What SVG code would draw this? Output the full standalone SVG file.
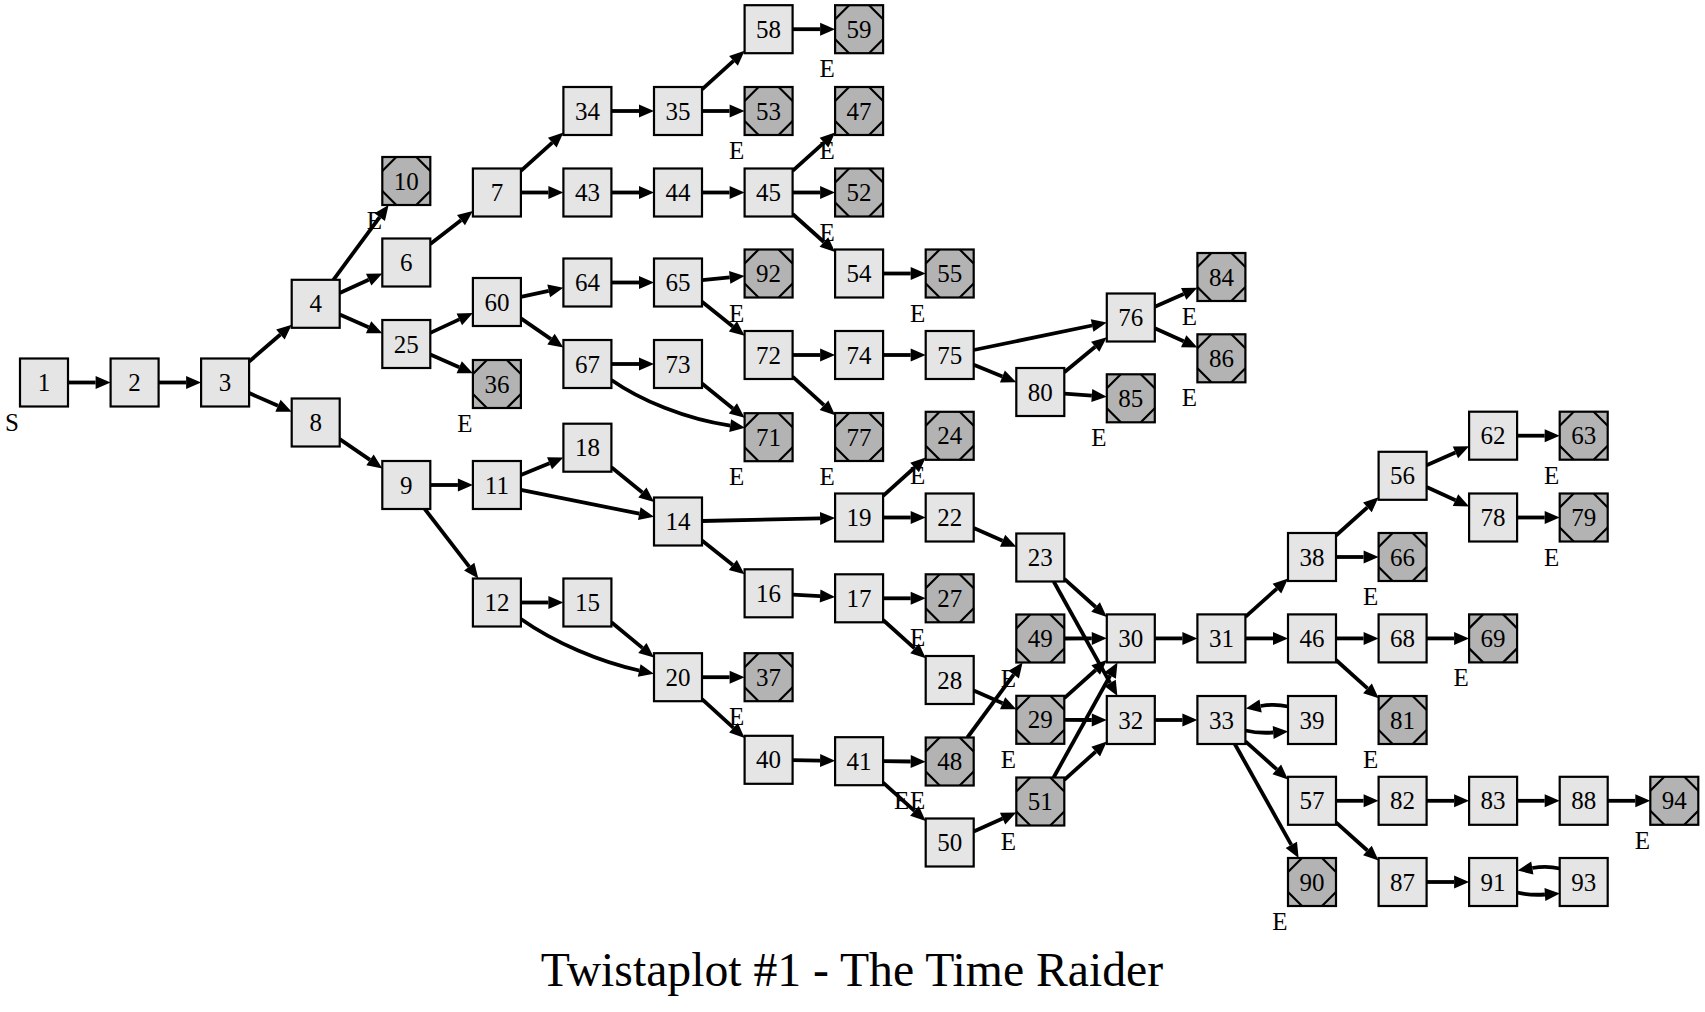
<svg xmlns="http://www.w3.org/2000/svg" xmlns:xlink="http://www.w3.org/1999/xlink" width="1705" height="1012" viewBox="0 0 1705 1012">
<style>
text{font-family:"Liberation Serif","Times New Roman",serif;fill:#000;text-anchor:middle}
.nt{font-size:25px}
.lbl{font-size:25px}
.title{font-size:47.7px}
.box{fill:#e5e5e5;stroke:#000;stroke-width:2.2}
.ebox{fill:#b3b3b3;stroke:#000;stroke-width:2.2}
.corner{fill:none;stroke:#000;stroke-width:2.2}
#edges path{fill:none;stroke:#000;stroke-width:3.8;marker-end:url(#ah)}
</style>
<defs>
<marker id="ah" markerUnits="userSpaceOnUse" markerWidth="16" markerHeight="14" refX="0" refY="7" orient="auto" viewBox="0 0 15 14"><path d="M0,0.5 L15,7 L0,13.5 z" fill="#000"/></marker>
<g id="nb"><rect class="box" x="-24" y="-24" width="48" height="48"/></g>
<g id="eb"><rect class="ebox" x="-24" y="-24" width="48" height="48"/><path class="corner" d="M-24,-10 L-10,-24 M10,-24 L24,-10 M24,10 L10,24 M-10,24 L-24,10"/></g>
</defs>
<rect width="1705" height="1012" fill="#fff"/>
<g id="edges">
<path d="M68,382.5 L95.6,382.5"/>
<path d="M158.6,382.5 L186.1,382.5"/>
<path d="M249.1,361.6 L280.4,334.5"/>
<path d="M249.1,393.1 L278,405.8"/>
<path d="M333.4,279.8 L379.7,217.1"/>
<path d="M339.7,292.9 L368.7,279.7"/>
<path d="M339.7,314.5 L368.6,327.3"/>
<path d="M430.3,244 L461,220.2"/>
<path d="M520.9,170.9 L552.3,142.6"/>
<path d="M520.9,192.5 L548.4,192.5"/>
<path d="M611.4,111 L639,111"/>
<path d="M702,89.3 L733.5,60.9"/>
<path d="M702,111 L729.6,111"/>
<path d="M792.6,29.2 L820.1,29.2"/>
<path d="M611.4,192.5 L639,192.5"/>
<path d="M702,192.5 L729.6,192.5"/>
<path d="M792.6,170.9 L824,142.6"/>
<path d="M792.6,192.5 L820.1,192.5"/>
<path d="M792.6,214 L823.9,242"/>
<path d="M883.1,273.5 L910.7,273.5"/>
<path d="M430.3,332.9 L459.3,319.4"/>
<path d="M430.3,354.6 L459.2,367.3"/>
<path d="M520.9,296.8 L548.7,290.8"/>
<path d="M520.9,318.4 L551,339.1"/>
<path d="M611.4,282.5 L639,282.5"/>
<path d="M702,280.1 L729.7,277.4"/>
<path d="M702,301.7 L732.9,326.4"/>
<path d="M792.6,355 L820.1,355"/>
<path d="M792.6,376.7 L824,405.2"/>
<path d="M883.1,355 L910.7,355"/>
<path d="M973.7,350 L1092.1,325.5"/>
<path d="M973.7,364.8 L1002.4,376.5"/>
<path d="M1064.3,372.3 L1095.2,346.8"/>
<path d="M1064.3,393.7 L1091.8,395.6"/>
<path d="M1154.8,306.8 L1183.7,293.9"/>
<path d="M1154.8,328.3 L1183.7,341.3"/>
<path d="M611.4,380 C640,400 685,419 730.2,425.6"/>
<path d="M611.4,364 L639,364"/>
<path d="M702,383.4 L732.9,408.4"/>
<path d="M339.7,439.1 L370,459.9"/>
<path d="M430.3,485 L457.9,485"/>
<path d="M424.8,509 L469.2,566.6"/>
<path d="M520.9,475.1 L549.5,463.3"/>
<path d="M520.9,489.8 L639.3,513.7"/>
<path d="M611.4,467.3 L642.4,492.5"/>
<path d="M702,521 L820.1,518.4"/>
<path d="M702,540.5 L732.8,565"/>
<path d="M883.1,495.9 L914.6,467.5"/>
<path d="M883.1,517.5 L910.7,517.5"/>
<path d="M973.7,528.1 L1002.6,540.8"/>
<path d="M1064.3,578.9 L1095.6,607"/>
<path d="M1053.7,581.5 L1110.1,682.9"/>
<path d="M792.6,594.6 L820.1,596.1"/>
<path d="M883.1,598.3 L910.7,598.3"/>
<path d="M883.1,620 L914.6,648.3"/>
<path d="M973.7,690.6 L1002.6,703.2"/>
<path d="M520.9,602.5 L548.4,602.5"/>
<path d="M520.9,619 C555,643 600,662 639.2,670.5"/>
<path d="M611.4,622.3 L642.4,647.9"/>
<path d="M702,677.2 L729.6,677.2"/>
<path d="M702,699.1 L733.5,727.8"/>
<path d="M792.6,760.2 L820.1,760.6"/>
<path d="M883.1,761.2 L910.7,761.5"/>
<path d="M883.1,782.7 L914.5,810.9"/>
<path d="M967.4,737.5 L1013.7,674.6"/>
<path d="M973.7,831.6 L1002.6,818.6"/>
<path d="M1064.3,638.5 L1091.8,638.4"/>
<path d="M1064.3,698.2 L1095.7,670"/>
<path d="M1064.3,719.8 L1091.8,720"/>
<path d="M1053.6,777.5 L1110.2,675.5"/>
<path d="M1064.3,779.9 L1095.7,751.6"/>
<path d="M1154.8,638.4 L1182.4,638.4"/>
<path d="M1245.4,616.8 L1276.9,588.6"/>
<path d="M1245.4,638.4 L1273,638.4"/>
<path d="M1336,535.5 L1367.4,507.3"/>
<path d="M1336,557 L1363.6,557"/>
<path d="M1426.6,465.2 L1455.4,452.4"/>
<path d="M1426.6,486.9 L1455.5,500.2"/>
<path d="M1517.1,435.7 L1544.7,435.7"/>
<path d="M1517.1,517.5 L1544.7,517.5"/>
<path d="M1336,638.4 L1363.6,638.4"/>
<path d="M1336,660 L1367.5,688.3"/>
<path d="M1426.6,638.4 L1454.1,638.4"/>
<path d="M1154.8,720 L1182.4,720"/>
<path d="M1245.4,730.5 Q1258,733.5 1273.2,732.5"/>
<path d="M1288,706.5 Q1275,703.5 1260.6,706"/>
<path d="M1245.4,741.4 L1276.8,769.4"/>
<path d="M1234.8,744 L1291.3,844.9"/>
<path d="M1336,800.8 L1363.6,800.8"/>
<path d="M1336,822.3 L1367.4,850.5"/>
<path d="M1426.6,800.8 L1454.1,800.8"/>
<path d="M1517.1,800.8 L1544.7,800.8"/>
<path d="M1607.7,800.8 L1635.3,800.8"/>
<path d="M1426.6,882 L1454.1,882"/>
<path d="M1517.1,892.5 Q1529.7,895.5 1544.9,894.5"/>
<path d="M1559.7,868.5 Q1546.7,865.5 1532.3,868"/>
</g>
<g id="nodes">
<g id="n1" transform="translate(44,382.5)"><use xlink:href="#nb"/><text class="nt" y="8.5">1</text><text class="lbl" x="-32" y="48">S</text></g>
<g id="n2" transform="translate(134.6,382.5)"><use xlink:href="#nb"/><text class="nt" y="8.5">2</text></g>
<g id="n3" transform="translate(225.1,382.5)"><use xlink:href="#nb"/><text class="nt" y="8.5">3</text></g>
<g id="n4" transform="translate(315.7,303.8)"><use xlink:href="#nb"/><text class="nt" y="8.5">4</text></g>
<g id="n8" transform="translate(315.7,422.5)"><use xlink:href="#nb"/><text class="nt" y="8.5">8</text></g>
<g id="n10" transform="translate(406.3,181)"><use xlink:href="#eb"/><text class="nt" y="8.5">10</text><text class="lbl" x="-32" y="48">E</text></g>
<g id="n6" transform="translate(406.3,262.5)"><use xlink:href="#nb"/><text class="nt" y="8.5">6</text></g>
<g id="n25" transform="translate(406.3,344)"><use xlink:href="#nb"/><text class="nt" y="8.5">25</text></g>
<g id="n9" transform="translate(406.3,485)"><use xlink:href="#nb"/><text class="nt" y="8.5">9</text></g>
<g id="n7" transform="translate(496.9,192.5)"><use xlink:href="#nb"/><text class="nt" y="8.5">7</text></g>
<g id="n60" transform="translate(496.9,302)"><use xlink:href="#nb"/><text class="nt" y="8.5">60</text></g>
<g id="n36" transform="translate(496.9,384)"><use xlink:href="#eb"/><text class="nt" y="8.5">36</text><text class="lbl" x="-32" y="48">E</text></g>
<g id="n11" transform="translate(496.9,485)"><use xlink:href="#nb"/><text class="nt" y="8.5">11</text></g>
<g id="n12" transform="translate(496.9,602.5)"><use xlink:href="#nb"/><text class="nt" y="8.5">12</text></g>
<g id="n34" transform="translate(587.4,111)"><use xlink:href="#nb"/><text class="nt" y="8.5">34</text></g>
<g id="n43" transform="translate(587.4,192.5)"><use xlink:href="#nb"/><text class="nt" y="8.5">43</text></g>
<g id="n64" transform="translate(587.4,282.5)"><use xlink:href="#nb"/><text class="nt" y="8.5">64</text></g>
<g id="n67" transform="translate(587.4,364)"><use xlink:href="#nb"/><text class="nt" y="8.5">67</text></g>
<g id="n18" transform="translate(587.4,447.7)"><use xlink:href="#nb"/><text class="nt" y="8.5">18</text></g>
<g id="n15" transform="translate(587.4,602.5)"><use xlink:href="#nb"/><text class="nt" y="8.5">15</text></g>
<g id="n35" transform="translate(678,111)"><use xlink:href="#nb"/><text class="nt" y="8.5">35</text></g>
<g id="n44" transform="translate(678,192.5)"><use xlink:href="#nb"/><text class="nt" y="8.5">44</text></g>
<g id="n65" transform="translate(678,282.5)"><use xlink:href="#nb"/><text class="nt" y="8.5">65</text></g>
<g id="n73" transform="translate(678,364)"><use xlink:href="#nb"/><text class="nt" y="8.5">73</text></g>
<g id="n14" transform="translate(678,521.5)"><use xlink:href="#nb"/><text class="nt" y="8.5">14</text></g>
<g id="n20" transform="translate(678,677.2)"><use xlink:href="#nb"/><text class="nt" y="8.5">20</text></g>
<g id="n58" transform="translate(768.6,29.2)"><use xlink:href="#nb"/><text class="nt" y="8.5">58</text></g>
<g id="n53" transform="translate(768.6,111)"><use xlink:href="#eb"/><text class="nt" y="8.5">53</text><text class="lbl" x="-32" y="48">E</text></g>
<g id="n45" transform="translate(768.6,192.5)"><use xlink:href="#nb"/><text class="nt" y="8.5">45</text></g>
<g id="n92" transform="translate(768.6,273.5)"><use xlink:href="#eb"/><text class="nt" y="8.5">92</text><text class="lbl" x="-32" y="48">E</text></g>
<g id="n72" transform="translate(768.6,355)"><use xlink:href="#nb"/><text class="nt" y="8.5">72</text></g>
<g id="n71" transform="translate(768.6,437.2)"><use xlink:href="#eb"/><text class="nt" y="8.5">71</text><text class="lbl" x="-32" y="48">E</text></g>
<g id="n16" transform="translate(768.6,593.3)"><use xlink:href="#nb"/><text class="nt" y="8.5">16</text></g>
<g id="n37" transform="translate(768.6,677.2)"><use xlink:href="#eb"/><text class="nt" y="8.5">37</text><text class="lbl" x="-32" y="48">E</text></g>
<g id="n40" transform="translate(768.6,759.8)"><use xlink:href="#nb"/><text class="nt" y="8.5">40</text></g>
<g id="n59" transform="translate(859.1,29.2)"><use xlink:href="#eb"/><text class="nt" y="8.5">59</text><text class="lbl" x="-32" y="48">E</text></g>
<g id="n47" transform="translate(859.1,111)"><use xlink:href="#eb"/><text class="nt" y="8.5">47</text><text class="lbl" x="-32" y="48">E</text></g>
<g id="n52" transform="translate(859.1,192.5)"><use xlink:href="#eb"/><text class="nt" y="8.5">52</text><text class="lbl" x="-32" y="48">E</text></g>
<g id="n54" transform="translate(859.1,273.5)"><use xlink:href="#nb"/><text class="nt" y="8.5">54</text></g>
<g id="n74" transform="translate(859.1,355)"><use xlink:href="#nb"/><text class="nt" y="8.5">74</text></g>
<g id="n77" transform="translate(859.1,437)"><use xlink:href="#eb"/><text class="nt" y="8.5">77</text><text class="lbl" x="-32" y="48">E</text></g>
<g id="n19" transform="translate(859.1,517.5)"><use xlink:href="#nb"/><text class="nt" y="8.5">19</text></g>
<g id="n17" transform="translate(859.1,598.3)"><use xlink:href="#nb"/><text class="nt" y="8.5">17</text></g>
<g id="n41" transform="translate(859.1,761.2)"><use xlink:href="#nb"/><text class="nt" y="8.5">41</text></g>
<g id="n55" transform="translate(949.7,273.5)"><use xlink:href="#eb"/><text class="nt" y="8.5">55</text><text class="lbl" x="-32" y="48">E</text></g>
<g id="n75" transform="translate(949.7,355)"><use xlink:href="#nb"/><text class="nt" y="8.5">75</text></g>
<g id="n24" transform="translate(949.7,435.8)"><use xlink:href="#eb"/><text class="nt" y="8.5">24</text><text class="lbl" x="-32" y="48">E</text></g>
<g id="n22" transform="translate(949.7,517.5)"><use xlink:href="#nb"/><text class="nt" y="8.5">22</text></g>
<g id="n27" transform="translate(949.7,598.3)"><use xlink:href="#eb"/><text class="nt" y="8.5">27</text><text class="lbl" x="-32" y="48">E</text></g>
<g id="n28" transform="translate(949.7,680)"><use xlink:href="#nb"/><text class="nt" y="8.5">28</text></g>
<g id="n48" transform="translate(949.7,761.5)"><use xlink:href="#eb"/><text class="nt" y="8.5">48</text><text class="lbl" x="-48" y="47.5">E</text><text class="lbl" x="-32" y="47.5">E</text></g>
<g id="n50" transform="translate(949.7,842.5)"><use xlink:href="#nb"/><text class="nt" y="8.5">50</text></g>
<g id="n80" transform="translate(1040.3,392)"><use xlink:href="#nb"/><text class="nt" y="8.5">80</text></g>
<g id="n23" transform="translate(1040.3,557.5)"><use xlink:href="#nb"/><text class="nt" y="8.5">23</text></g>
<g id="n49" transform="translate(1040.3,638.5)"><use xlink:href="#eb"/><text class="nt" y="8.5">49</text><text class="lbl" x="-32" y="48">E</text></g>
<g id="n29" transform="translate(1040.3,719.8)"><use xlink:href="#eb"/><text class="nt" y="8.5">29</text><text class="lbl" x="-32" y="48">E</text></g>
<g id="n51" transform="translate(1040.3,801.5)"><use xlink:href="#eb"/><text class="nt" y="8.5">51</text><text class="lbl" x="-32" y="48">E</text></g>
<g id="n76" transform="translate(1130.8,317.5)"><use xlink:href="#nb"/><text class="nt" y="8.5">76</text></g>
<g id="n85" transform="translate(1130.8,398.3)"><use xlink:href="#eb"/><text class="nt" y="8.5">85</text><text class="lbl" x="-32" y="48">E</text></g>
<g id="n30" transform="translate(1130.8,638.4)"><use xlink:href="#nb"/><text class="nt" y="8.5">30</text></g>
<g id="n32" transform="translate(1130.8,720)"><use xlink:href="#nb"/><text class="nt" y="8.5">32</text></g>
<g id="n84" transform="translate(1221.4,277)"><use xlink:href="#eb"/><text class="nt" y="8.5">84</text><text class="lbl" x="-32" y="48">E</text></g>
<g id="n86" transform="translate(1221.4,358.3)"><use xlink:href="#eb"/><text class="nt" y="8.5">86</text><text class="lbl" x="-32" y="48">E</text></g>
<g id="n31" transform="translate(1221.4,638.4)"><use xlink:href="#nb"/><text class="nt" y="8.5">31</text></g>
<g id="n33" transform="translate(1221.4,720)"><use xlink:href="#nb"/><text class="nt" y="8.5">33</text></g>
<g id="n38" transform="translate(1312,557)"><use xlink:href="#nb"/><text class="nt" y="8.5">38</text></g>
<g id="n46" transform="translate(1312,638.4)"><use xlink:href="#nb"/><text class="nt" y="8.5">46</text></g>
<g id="n39" transform="translate(1312,720)"><use xlink:href="#nb"/><text class="nt" y="8.5">39</text></g>
<g id="n57" transform="translate(1312,800.8)"><use xlink:href="#nb"/><text class="nt" y="8.5">57</text></g>
<g id="n90" transform="translate(1312,882)"><use xlink:href="#eb"/><text class="nt" y="8.5">90</text><text class="lbl" x="-32" y="48">E</text></g>
<g id="n56" transform="translate(1402.6,475.8)"><use xlink:href="#nb"/><text class="nt" y="8.5">56</text></g>
<g id="n66" transform="translate(1402.6,557)"><use xlink:href="#eb"/><text class="nt" y="8.5">66</text><text class="lbl" x="-32" y="48">E</text></g>
<g id="n68" transform="translate(1402.6,638.4)"><use xlink:href="#nb"/><text class="nt" y="8.5">68</text></g>
<g id="n81" transform="translate(1402.6,720)"><use xlink:href="#eb"/><text class="nt" y="8.5">81</text><text class="lbl" x="-32" y="48">E</text></g>
<g id="n82" transform="translate(1402.6,800.8)"><use xlink:href="#nb"/><text class="nt" y="8.5">82</text></g>
<g id="n87" transform="translate(1402.6,882)"><use xlink:href="#nb"/><text class="nt" y="8.5">87</text></g>
<g id="n62" transform="translate(1493.1,435.7)"><use xlink:href="#nb"/><text class="nt" y="8.5">62</text></g>
<g id="n78" transform="translate(1493.1,517.5)"><use xlink:href="#nb"/><text class="nt" y="8.5">78</text></g>
<g id="n69" transform="translate(1493.1,638.4)"><use xlink:href="#eb"/><text class="nt" y="8.5">69</text><text class="lbl" x="-32" y="48">E</text></g>
<g id="n83" transform="translate(1493.1,800.8)"><use xlink:href="#nb"/><text class="nt" y="8.5">83</text></g>
<g id="n91" transform="translate(1493.1,882)"><use xlink:href="#nb"/><text class="nt" y="8.5">91</text></g>
<g id="n63" transform="translate(1583.7,435.7)"><use xlink:href="#eb"/><text class="nt" y="8.5">63</text><text class="lbl" x="-32" y="48">E</text></g>
<g id="n79" transform="translate(1583.7,517.5)"><use xlink:href="#eb"/><text class="nt" y="8.5">79</text><text class="lbl" x="-32" y="48">E</text></g>
<g id="n88" transform="translate(1583.7,800.8)"><use xlink:href="#nb"/><text class="nt" y="8.5">88</text></g>
<g id="n93" transform="translate(1583.7,882)"><use xlink:href="#nb"/><text class="nt" y="8.5">93</text></g>
<g id="n94" transform="translate(1674.3,800.8)"><use xlink:href="#eb"/><text class="nt" y="8.5">94</text><text class="lbl" x="-32" y="48">E</text></g>
</g>
<text class="title" x="852" y="986">Twistaplot #1 - The Time Raider</text>
</svg>
